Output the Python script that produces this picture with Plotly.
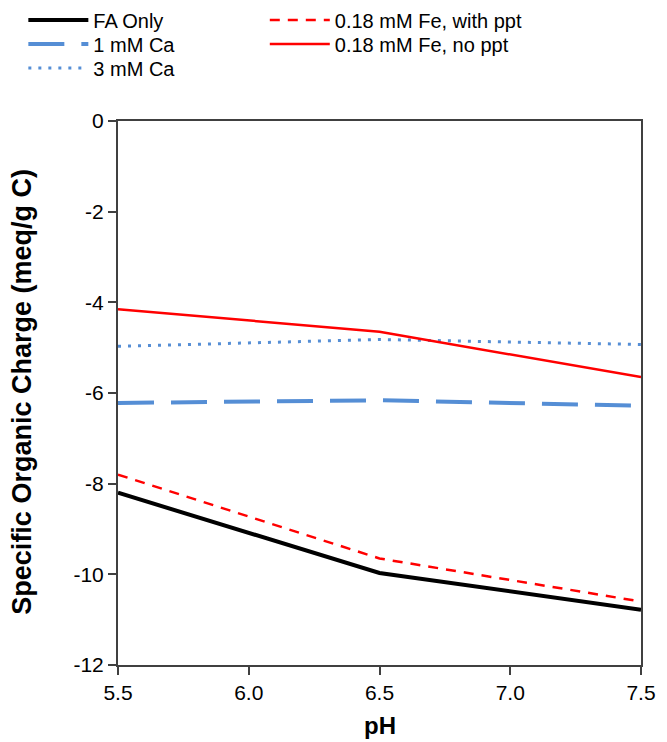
import plotly.graph_objects as go

ph = [5.5, 6.5, 7.5]
fa_only = [-8.2, -9.97, -10.78]
ca_1mM = [-6.22, -6.16, -6.28]
ca_3mM = [-4.97, -4.82, -4.93]
fe_ppt = [-7.8, -9.65, -10.6]
fe_noppt = [-4.15, -4.65, -5.65]

x_ticks = [5.5, 6.0, 6.5, 7.0, 7.5]
x_labels = ["5.5", "6.0", "6.5", "7.0", "7.5"]
y_ticks = [0, -2, -4, -6, -8, -10, -12]
y_labels = ["0", "-2", "-4", "-6", "-8", "-10", "-12"]

fig = go.Figure()
fig.add_trace(go.Scatter(x=ph, y=fa_only, mode="lines", name="FA Only",
                         line=dict(color="black", width=4), legend="legend"))
fig.add_trace(go.Scatter(x=ph, y=ca_1mM, mode="lines", name="1 mM Ca",
                         line=dict(color="#558ED5", width=4, dash="36px,17px"), legend="legend2"))
fig.add_trace(go.Scatter(x=ph, y=ca_3mM, mode="lines", name="3 mM Ca",
                         line=dict(color="#558ED5", width=3, dash="3px,7px"), legend="legend3"))
fig.add_trace(go.Scatter(x=ph, y=fe_ppt, mode="lines", name="0.18 mM Fe, with ppt",
                         line=dict(color="#FF0000", width=2.5, dash="10px,8px"), legend="legend4"))
fig.add_trace(go.Scatter(x=ph, y=fe_noppt, mode="lines", name="0.18 mM Fe, no ppt",
                         line=dict(color="#FF0000", width=2.5), legend="legend5"))

font = "Liberation Sans, Arial, sans-serif"
H = 742
legend_common = dict(font=dict(family=font, size=20, color="black"), bgcolor="rgba(0,0,0,0)",
                     tracegroupgap=0, itemwidth=60, yanchor="middle", xanchor="left",
                     xref="container", yref="container")
col1, col2 = 0.035, 0.397
row_y = [1 - 20 / H, 1 - 44 / H, 1 - 68 / H]
fig.update_layout(
    width=667, height=H,
    margin=dict(l=118, r=26, t=121, b=77, autoexpand=False),
    paper_bgcolor="white", plot_bgcolor="white",
    font=dict(family=font, size=21, color="black"),
    legend=dict(x=col1, y=row_y[0], **legend_common),
    legend2=dict(x=col1, y=row_y[1], **legend_common),
    legend3=dict(x=col1, y=row_y[2], **legend_common),
    legend4=dict(x=col2, y=row_y[0], **legend_common),
    legend5=dict(x=col2, y=row_y[1], **legend_common),
    showlegend=True,
    xaxis=dict(range=[5.5, 7.5], tickvals=x_ticks, ticktext=x_labels, automargin=False,
               showgrid=False, zeroline=False, showline=True, linecolor="#404040", linewidth=2,
               mirror=True, ticks="outside", ticklen=8, tickcolor="#404040", tickwidth=1.5,
               tickfont=dict(size=21)),
    yaxis=dict(range=[-12, 0], tickvals=y_ticks, ticktext=y_labels, showgrid=False, zeroline=False,
               automargin=False,
               showline=True, linecolor="#404040", linewidth=2, mirror=True, ticks="outside",
               ticklen=8, tickcolor="#404040", tickwidth=1.5,
               tickfont=dict(size=21)),
    annotations=[
        dict(text="<b>pH</b>", xref="paper", yref="paper", x=0.5, y=-0.112,
             xanchor="center", yanchor="middle", showarrow=False, font=dict(size=24)),
        dict(text="<b>Specific Organic Charge (meq/g C)</b>", xref="paper", yref="paper",
             x=-0.183, y=0.503, xanchor="center", yanchor="middle", textangle=-90,
             showarrow=False, font=dict(size=27)),
    ],
)
fig.write_html("out.html")
